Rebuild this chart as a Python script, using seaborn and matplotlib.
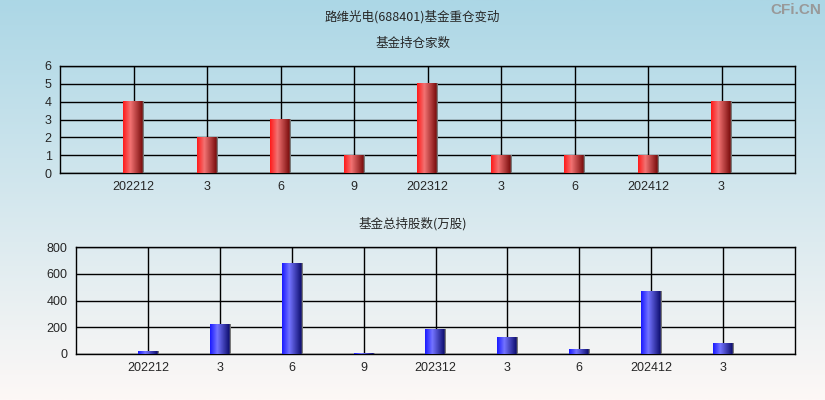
import numpy as np
import pandas as pd
import matplotlib
matplotlib.use('Agg')
import matplotlib.pyplot as plt
import matplotlib.colors as mcolors
import seaborn as sns

periods = ['202212', '202303', '202306', '202309', '202312', '202403', '202406', '202412', '202503']
tick_labels = ['202212', '3', '6', '9', '202312', '3', '6', '202412', '3']
fund_count = [4, 2, 3, 1, 5, 1, 1, 1, 4]
total_shares = [15, 222, 680, 5, 180, 127, 30, 471, 75]

sns.set_style('white')
plt.rcParams['font.family'] = ['Liberation Sans', 'Noto Sans CJK SC', 'DejaVu Sans']
cjk = ['Noto Sans CJK SC', 'DejaVu Sans']

df = pd.DataFrame({'period': periods, 'count': fund_count, 'shares': total_shares})

fig = plt.figure(figsize=(8.25, 4), dpi=100)

# background gradient, light blue at the top to near white at the bottom
bg = fig.add_axes([0, 0, 1, 1], zorder=-10)
top_c = np.array(mcolors.to_rgb('#acd7e6'))
bot_c = np.array(mcolors.to_rgb('#fdf8f6'))
t = np.linspace(0, 1, 256)[:, None]
grad = top_c * (1 - t) + bot_c * t
bg.imshow(grad[:, None, :], aspect='auto', extent=[0, 1, 0, 1])
bg.axis('off')

fig.text(0.5, 1 - 17 / 400, '路维光电(688401)基金重仓变动', ha='center', va='center', fontsize=9, family=cjk)
fig.text(0.5, 1 - 43 / 400, '基金持仓家数', ha='center', va='center', fontsize=9, family=cjk)
fig.text(0.5, 1 - 224 / 400, '基金总持股数(万股)', ha='center', va='center', fontsize=9, family=cjk)
fig.text(0.995, 1 - 10 / 400, 'CFi.CN', ha='right', va='center', fontsize=11, color='#999999', weight='bold')


def bar_gradient(base, light, dark):
    stops = [(0.0, base), (0.35, light), (0.94, dark), (0.95, '#6e6e6e'), (1.0, '#808080')]
    cmap = mcolors.LinearSegmentedColormap.from_list('g', stops)
    return cmap(np.linspace(0, 1, 64))[None, :, :]


def draw_panel(ax, col, yticks, colors):
    sns.barplot(data=df, x='period', y=col, order=periods, width=0.28, ax=ax, zorder=3)
    img = bar_gradient(*colors)
    for p in ax.patches:
        x0, w, h = p.get_x(), p.get_width(), p.get_height()
        ax.imshow(img, extent=[x0, x0 + w, 0, h], aspect='auto', zorder=3)
        p.set_visible(False)
    ax.set_facecolor('none')
    ax.set_xlim(-1, 9)
    ax.set_ylim(yticks[0], yticks[-1])
    ax.set_yticks(yticks)
    ax.set_xticks(range(len(periods)))
    ax.set_xticklabels(tick_labels)
    ax.set_xticks([-1, 9], minor=True)
    ax.tick_params(axis='x', which='major', length=0, labelsize=9, pad=6)
    ax.tick_params(axis='x', which='minor', length=5, width=1, color='black', direction='out')
    ax.tick_params(axis='y', length=4, width=1, color='black', direction='out', labelsize=9, pad=2)
    ax.grid(True, color='black', linewidth=1, zorder=1)
    ax.set_axisbelow(True)
    for s in ax.spines.values():
        s.set_color('black')
        s.set_linewidth(1)
    ax.set_xlabel('')
    ax.set_ylabel('')


ax1 = fig.add_axes([60 / 825, 1 - 173 / 400, 735 / 825, 107 / 400])
draw_panel(ax1, 'count', [0, 1, 2, 3, 4, 5, 6], ('#ff1a1a', '#f27272', '#7a0d0d'))

ax2 = fig.add_axes([76 / 825, 1 - 354 / 400, 719 / 825, 107 / 400])
draw_panel(ax2, 'shares', [0, 200, 400, 600, 800], ('#1a1aff', '#7373ff', '#0d0d6e'))

fig.savefig('out.png', dpi=100)
